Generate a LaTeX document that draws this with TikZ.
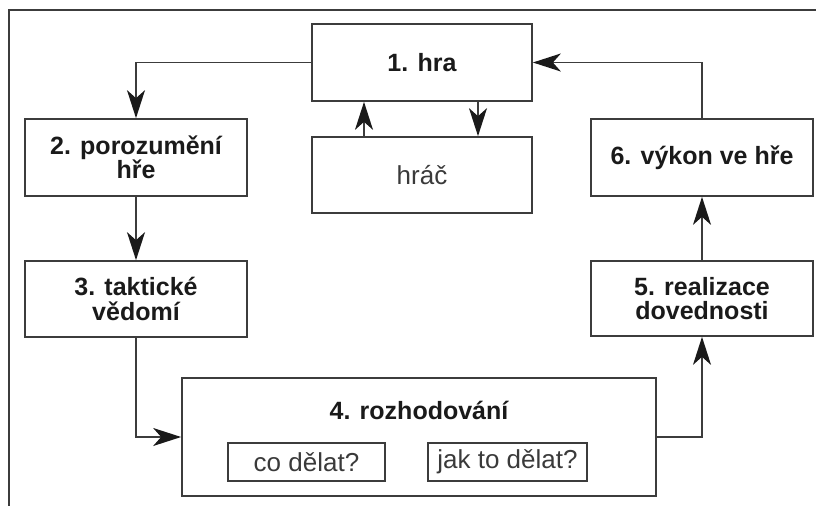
\documentclass[tikz,border=0pt]{standalone}
\usepackage{fontspec}
\setmainfont{Liberation Sans}
\usetikzlibrary{arrows.meta}
\definecolor{linegray}{HTML}{3C3C3C}
\definecolor{textdark}{HTML}{1A1A1A}
\definecolor{textsoft}{HTML}{3A3A3A}
\begin{document}
\begin{tikzpicture}[x=1pt,y=-1pt,
  frameline/.style={draw=linegray, line width=1.7pt},
  stagebox/.style={frameline, rectangle, inner sep=0pt, align=center,
    text=textdark, font=\fontsize{25}{24.5}\selectfont\bfseries},
  plainbox/.style={frameline, rectangle, inner sep=0pt, align=center,
    text=textsoft, font=\fontsize{26}{26}\selectfont},
  flow/.style={draw=linegray, line width=1.7pt,
    -{Stealth[length=28pt, width=18pt, inset=8pt, color=textdark, fill=textdark]}}]
\useasboundingbox (0,0) rectangle (816,506);

% outer frame (top and left edges)
\draw[frameline] (816,10) -- (9,10) -- (9,506);

% stages
\node[stagebox, minimum width=220pt, minimum height=77pt] (hra) at (422,62.5) {1. hra};
\node[plainbox, minimum width=220pt, minimum height=76pt] (hrac) at (422,175) {hráč};
\node[stagebox, minimum width=222pt, minimum height=77pt] (porozumeni) at (136,157.5) {2. porozumění\\hře};
\node[stagebox, minimum width=222pt, minimum height=76pt] (vedomi) at (136,299) {3. taktické\\vědomí};
\node[frameline, rectangle, minimum width=474pt, minimum height=118pt] (rozhodovani) at (419,437) {};
\node[text=textdark, font=\fontsize{25}{25}\selectfont\bfseries] (rozhlabel) at (419,410) {4. rozhodování};
\node[plainbox, minimum width=157pt, minimum height=38pt] (co) at (306.5,462) {co dělat?};
\node[plainbox, minimum width=159pt, minimum height=38pt] (jak) at (507.5,462) {jak to dělat?};
\node[stagebox, minimum width=222pt, minimum height=75pt] (realizace) at (702,298.5) {5. realizace\\dovednosti};
\node[stagebox, minimum width=222pt, minimum height=77pt] (vykon) at (702,157.5) {6. výkon ve hře};

% connectors
\coordinate (upx) at (364,0);
\coordinate (downx) at (478,0);
\draw[flow] (hra.west) -| (porozumeni.north);
\draw[flow] (porozumeni.south) -- (vedomi.north);
\draw[flow] (vedomi.south) |- (rozhodovani.west);
\draw[flow] (rozhodovani.east) -| (realizace.south);
\draw[flow] (realizace.north) -- (vykon.south);
\draw[flow] (vykon.north) |- (hra.east);
\draw[flow] (hrac.north -| upx) -- (hra.south -| upx);
\draw[flow] (hra.south -| downx) -- (hrac.north -| downx);
\end{tikzpicture}
\end{document}
